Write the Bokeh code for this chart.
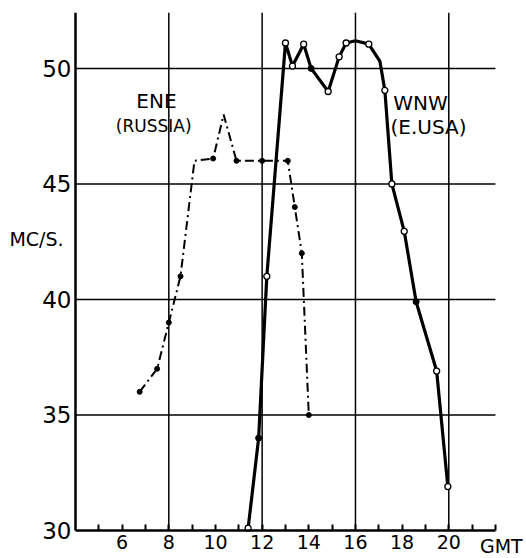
from bokeh.plotting import figure
from bokeh.models import FixedTicker, Label
from bokeh.embed import file_html
from bokeh.resources import INLINE

# ---- data ----
ene_hours = [6.75, 7.5, 8.0, 8.5, 9.1, 9.9, 10.35, 10.9, 12.0, 13.1, 13.4, 13.7, 14.0]
ene_mcs = [36.0, 37.0, 39.0, 41.0, 46.0, 46.1, 48.0, 46.0, 46.0, 46.0, 44.0, 42.0, 35.0]
ene_dotted = [1, 1, 1, 1, 0, 1, 0, 1, 1, 1, 1, 1, 1]

wnw_hours = [11.4, 11.85, 12.2, 13.0, 13.3, 13.78, 14.1, 14.83, 15.3, 15.6, 16.0,
             16.57, 17.05, 17.26, 17.56, 18.09, 18.6, 19.48, 19.96]
wnw_mcs = [30.1, 34.0, 41.0, 51.1, 50.1, 51.05, 50.0, 49.0, 50.5, 51.1, 51.2,
           51.05, 50.3, 49.05, 45.0, 42.95, 39.9, 36.9, 31.9]
# 0 = no marker, 1 = open circle, 2 = filled dot
wnw_marks = [1, 2, 1, 1, 1, 1, 2, 1, 1, 1, 0, 1, 0, 1, 1, 1, 2, 1, 1]

x_ticks = list(range(5, 23))
x_labels = [6, 8, 10, 12, 14, 16, 18, 20]
y_ticks = [30, 35, 40, 45, 50]
x_grid = [8, 12, 16, 20]
y_grid = [35, 40, 45, 50]
X_START, X_END = 4, 22
Y_START, Y_END = 30, 52.42

FONT = "DejaVu Sans"
PX_PER_HOUR = 23.33
PX_PER_MC = 23.1
W, H = 526, 558
AX_LEFT, AX_BOTTOM, TOP = 75, 530, 12
x_lo = X_START - AX_LEFT / PX_PER_HOUR
x_hi = X_START + (W - AX_LEFT) / PX_PER_HOUR
y_lo = Y_START - (H - AX_BOTTOM) / PX_PER_MC

p = figure(width=W, height=H, x_range=(x_lo, x_hi), y_range=(y_lo, Y_END),
           output_backend="svg", toolbar_location=None,
           min_border_left=0, min_border_right=0, min_border_top=TOP, min_border_bottom=0)
p.outline_line_color = None
p.background_fill_color = "white"

# grid (drawn as segments so they stop at the axes)
p.xgrid.grid_line_color = None
p.ygrid.grid_line_color = None
p.segment(x0=x_grid, x1=x_grid, y0=[Y_START] * len(x_grid), y1=[Y_END] * len(x_grid),
          line_color="black", line_width=1.5)
p.segment(x0=[X_START] * len(y_grid), x1=[X_END] * len(y_grid), y0=y_grid, y1=y_grid,
          line_color="black", line_width=1.5)

# axes
xa = p.xaxis[0]
xa.fixed_location = Y_START
xa.bounds = (X_START, X_END)
xa.ticker = FixedTicker(ticks=x_ticks)
xa.major_label_overrides = {t: (str(t) if t in x_labels else "") for t in x_ticks}
xa.major_tick_in = 6
xa.major_tick_out = 0
xa.minor_tick_line_color = None
xa.axis_line_width = 2.5
xa.major_tick_line_width = 2
xa.major_label_standoff = 5
xa.major_label_text_font = FONT
xa.major_label_text_font_size = "19px"
xa.major_label_text_color = "black"

ya = p.yaxis[0]
ya.fixed_location = X_START
ya.bounds = (Y_START, Y_END)
ya.ticker = FixedTicker(ticks=y_ticks)
ya.major_tick_in = 0
ya.major_tick_out = 0
ya.minor_tick_line_color = None
ya.axis_line_width = 2.5
ya.major_label_standoff = 4
ya.major_label_text_font = FONT
ya.major_label_text_font_size = "23px"
ya.major_label_text_color = "black"

# ENE (Russia) dash-dot curve
p.line(ene_hours, ene_mcs, line_color="black", line_width=2, line_dash="9 4 2 4")
ex = [h for h, d in zip(ene_hours, ene_dotted) if d]
ey = [m for m, d in zip(ene_mcs, ene_dotted) if d]
p.scatter(ex, ey, size=5, fill_color="black", line_color="black")

# WNW (E. USA) solid curve
p.line(wnw_hours, wnw_mcs, line_color="black", line_width=3.2)
ox = [h for h, k in zip(wnw_hours, wnw_marks) if k == 1]
oy = [m for m, k in zip(wnw_mcs, wnw_marks) if k == 1]
fx = [h for h, k in zip(wnw_hours, wnw_marks) if k == 2]
fy = [m for m, k in zip(wnw_mcs, wnw_marks) if k == 2]
p.scatter(ox, oy, size=6, fill_color="white", line_color="black", line_width=1.3)
p.scatter(fx, fy, size=6, fill_color="black", line_color="black")

# texts
def lab(x, y, t, size="17px", **kw):
    p.add_layout(Label(x=x, y=y, text=t, text_font=FONT, text_font_size=size,
                       text_align="center", text_baseline="middle", text_color="black", **kw))

lab(7.47, 48.6, "ENE", size="20px")
lab(7.35, 47.5, "(RUSSIA)", size="17px")
lab(18.79, 48.5, "WNW", size="20px")
lab(19.13, 47.45, "(E.USA)", size="20px")
lab(2.33, 42.6, "MC/S.", size="19px")
p.add_layout(Label(x=22.25, y=Y_START, y_offset=-5, text="GMT", text_font=FONT,
                   text_font_size="19px", text_align="center", text_baseline="top",
                   text_color="black"))

open("out.html", "w").write(file_html(p, INLINE))
